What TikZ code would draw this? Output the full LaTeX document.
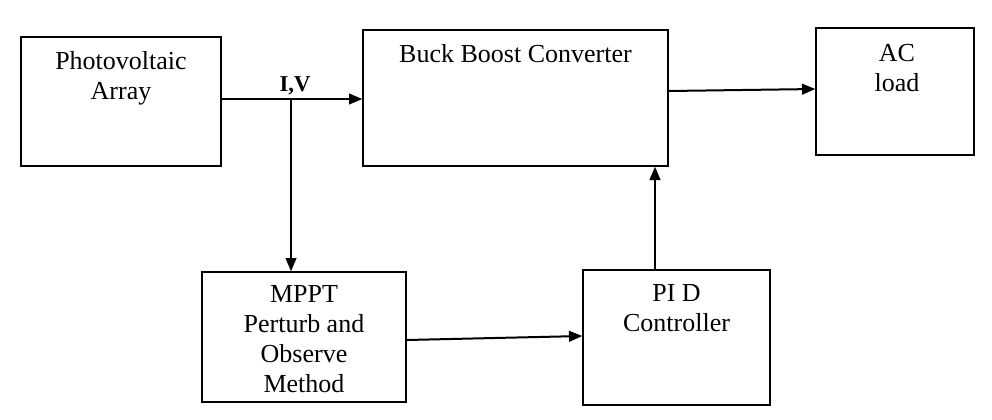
\documentclass[tikz,border=0pt]{standalone}
\usepackage{fontspec}
\setmainfont{Liberation Serif}
\usetikzlibrary{arrows.meta,calc}
\begin{document}
\begin{tikzpicture}[x=0.75pt,y=-0.75pt,
  blockbox/.style={draw,line width=1pt,rectangle,inner sep=0pt},
  blocktext/.style={anchor=north,inner sep=0pt,align=center,font=\fontsize{19.5}{22.5}\selectfont},
  arr/.style={line width=1.5pt,-{Triangle[length=10pt,width=8pt]}},
  plain/.style={line width=1.5pt}]
\useasboundingbox (0,0) rectangle (992,419);
% boxes
\node[blockbox,minimum width=150pt,minimum height=96.75pt] (PV) at (121,101.5) {};
\node[blockbox,minimum width=228.75pt,minimum height=102pt] (Buck) at (515.5,98) {};
\node[blockbox,minimum width=118.5pt,minimum height=95.25pt] (AC) at (895,91.5) {};
\node[blockbox,minimum width=153pt,minimum height=97.5pt] (MPPT) at (304,337) {};
\node[blockbox,minimum width=140.25pt,minimum height=101.25pt] (PID) at (676.5,337.5) {};
% texts
\node[blocktext] (PVt) at ($(PV.north)+(0,15)$) {Photovoltaic\\Array};
\node[blocktext] (Buckt) at ($(Buck.north)+(0,15)$) {Buck Boost Converter};
\node[blocktext] (ACt) at ($(AC.north)+(2,17)$) {AC\\load};
\node[blocktext] (MPPTt) at ($(MPPT.north)+(0,14)$) {MPPT\\Perturb and\\Observe\\Method};
\node[blocktext] (PIDt) at ($(PID.north)+(0,15)$) {PI D\\Controller};
% connectors
\coordinate (j) at (291,99);
\draw[plain] (PV.east |- j) -- (j);
\draw[arr] (j) -- (j -| Buck.west);
\draw[arr] (j) -- (j |- MPPT.north);
\node[inner sep=0pt,font=\fontsize{17}{20}\selectfont\bfseries] (IV) at (295,86) {I,V};
\draw[arr] ($(Buck.east)+(0,-7)$) -- ($(AC.west)+(0,-2.5)$);
\draw[arr] ($(MPPT.east)+(0,3)$) -- ($(PID.west)+(0,-1.5)$);
\coordinate (p) at ($(PID.north)+(-21.5,0)$);
\draw[arr] (p) -- (p |- Buck.south);
\end{tikzpicture}
\end{document}
